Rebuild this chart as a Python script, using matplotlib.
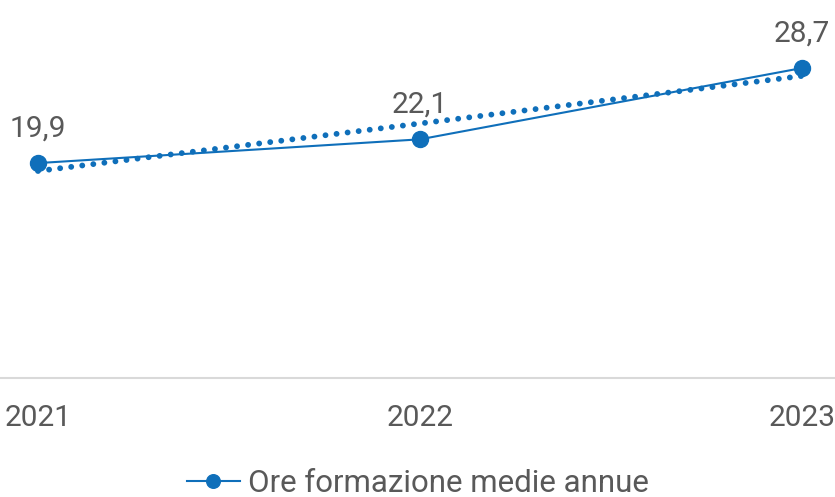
import matplotlib.pyplot as plt
import numpy as np

# Ore di formazione medie annue per anno
years = ['2021', '2022', '2023']
hours = [19.9, 22.1, 28.7]
labels = ['19,9', '22,1', '28,7']
legend_label = 'Ore formazione medie annue'

blue = '#0f6fba'
text_grey = '#595959'

plt.rcParams['font.family'] = ['Roboto', 'DejaVu Sans']

fig = plt.figure(figsize=(8.35, 4.97), dpi=100)
ax = fig.add_axes([0, 1 - 378 / 497, 1, 378 / 497])

x = np.arange(len(years))
ax.plot(x, hours, color=blue, lw=1.5, marker='o', ms=11.5,
        label=legend_label, zorder=3)

# linear trend line (dotted)
slope, intercept = np.polyfit(x, hours, 1)
trend = slope * x + intercept
ax.plot(x, trend, color=blue, lw=4.2, linestyle=(0, (0.01, 1.9)),
        dash_capstyle='round', zorder=2)

for xi, yi, lab in zip(x, hours, labels):
    ax.annotate(lab, (xi, yi), xytext=(0, 15), textcoords='offset points',
                ha='center', va='bottom', fontsize=21.5, color=text_grey)

px_per_unit = 382
ax.set_xlim(-38 / px_per_unit, (835 - 38) / px_per_unit)
ax.set_ylim(0, 35)
ax.set_xticks(x)
ax.set_xticklabels(years, fontsize=21.5, color=text_grey)
ax.tick_params(axis='x', length=0, pad=19)
ax.set_yticks([])
for side in ['top', 'left', 'right']:
    ax.spines[side].set_visible(False)
ax.spines['bottom'].set_color('#d9d9d9')
ax.spines['bottom'].set_linewidth(1.5)

leg = fig.legend(loc='center', bbox_to_anchor=(0.5, 0.027), frameon=False,
                 fontsize=22.5, handlelength=1.7, handletextpad=0.25,
                 borderpad=0, markerscale=0.85)
for t in leg.get_texts():
    t.set_color(text_grey)

fig.savefig('out.png', dpi=100)
